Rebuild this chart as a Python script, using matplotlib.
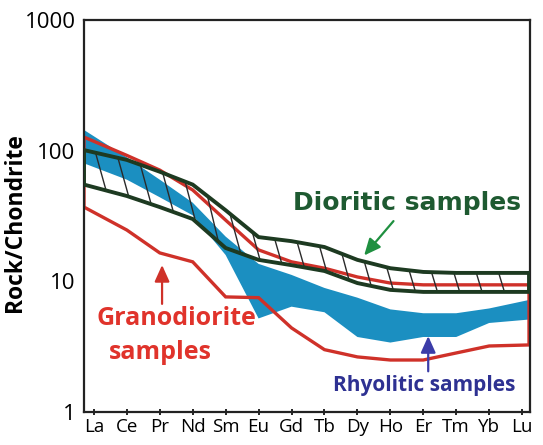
import numpy as np
import matplotlib
matplotlib.use('Agg')
import matplotlib.pyplot as plt

plt.rcParams['font.family'] = ['Open Sans', 'DejaVu Sans']

elements = ['La', 'Ce', 'Pr', 'Nd', 'Sm', 'Eu', 'Gd', 'Tb', 'Dy', 'Ho', 'Er', 'Tm', 'Yb', 'Lu']

# envelopes (rock / chondrite)
rhyo_top = [144, 89, 60, 40, 22, 13.6, 11.2, 8.9, 7.5, 6.1, 5.7, 5.7, 6.2, 7.2]
rhyo_bot = [80, 60, 44, 32, 15.9, 5.2, 6.4, 5.8, 3.75, 3.4, 3.75, 3.75, 4.8, 5.1]

grano_top = [127, 92, 71, 50, 29.4, 17.4, 14.1, 12.6, 10.8, 9.7, 9.4, 9.4, 9.4, 9.4]
grano_bot = [37, 24.7, 16.5, 14.1, 7.6, 7.5, 4.4, 3.0, 2.64, 2.5, 2.5, 2.83, 3.2, 3.26]

dio_top = [101, 85, 69, 55, 35, 21.8, 20.3, 18.3, 14.6, 12.6, 11.8, 11.6, 11.6, 11.6]
dio_bot = [55, 45, 37, 30, 18, 14.6, 13.3, 12.0, 9.7, 8.6, 8.3, 8.3, 8.3, 8.3]

c_blue = '#1b8fc1'
c_red = '#cf3129'
c_dgreen = '#1d3a21'


def envelope(x, top, bot):
    xs = np.concatenate([x, x[::-1]])
    ys = np.concatenate([top, bot[::-1]])
    return xs, ys


fig = plt.figure(figsize=(5.43, 4.45), dpi=100)
ax = fig.add_axes([84/543, 1-412/445, 446/543, 392/445])

idx = np.arange(len(elements))
x0, x1 = -0.30, 13.24
ax.set_xlim(x0, x1)
ax.set_yscale('log')
ax.set_ylim(1, 1000)

# envelopes reach the frame on both sides
xd = idx.astype(float)
xd[0] = x0
xd[-1] = x1 - 0.03

xs, ys = envelope(xd, rhyo_top, rhyo_bot)
ax.fill(xs, ys, color=c_blue, lw=0, zorder=1)

xs, ys = envelope(xd, grano_top, grano_bot)
ax.fill(xs, ys, facecolor='none', edgecolor=c_red, lw=2.4, zorder=2)

# hand-drawn style hatching inside the dioritic band
lt = np.log10(dio_top)
lb = np.log10(dio_bot)
for xh in np.arange(x0 + 0.35, x1 - 0.3, 0.68):
    ytop = np.interp(xh, xd, lt)
    ybot = np.interp(xh, xd, lb)
    off = 1.2 * (ytop - ybot)
    xb = min(xh + off, x1 - 0.05)
    ybot = np.interp(xb, xd, lb)
    ax.plot([xh, xb], [10**ytop, 10**ybot], color='#2a2a2a', lw=1.0, zorder=3)

xs, ys = envelope(xd, dio_top, dio_bot)
ax.fill(xs, ys, facecolor='none', edgecolor=c_dgreen, lw=2.8, zorder=4)

# labels and arrows
arrow = '-|>,head_length=1.0,head_width=0.45'
ax.text(9.5, 40, 'Dioritic samples', color='#1e5a31', fontsize=18,
        fontweight='bold', family='DejaVu Sans', ha='center', va='center')
ax.annotate('', xy=(8.15, 15.2), xytext=(9.15, 30),
            arrowprops=dict(arrowstyle=arrow, color='#1f9040', lw=1.6))

ax.text(2.5, 5.2, 'Granodiorite', color='#e0332b', fontsize=18,
        fontweight='bold', ha='center', va='center')
ax.text(2.03, 2.85, 'samples', color='#e0332b', fontsize=18,
        fontweight='bold', ha='center', va='center')
ax.annotate('', xy=(2.07, 14.0), xytext=(2.07, 6.4),
            arrowprops=dict(arrowstyle=arrow, color=c_red, lw=1.6))

ax.text(10.03, 1.6, 'Rhyolitic samples', color='#2e3192', fontsize=15,
        fontweight='bold', ha='center', va='center')
ax.annotate('', xy=(10.15, 4.0), xytext=(10.15, 1.95),
            arrowprops=dict(arrowstyle=arrow, color='#3b3ca8', lw=1.6))

# axes styling
ax.set_xticks(idx)
ax.set_xticklabels(elements, fontsize=13.5)
ax.tick_params(axis='x', direction='inout', length=5, width=1.2, pad=2)
ax.set_yticks([1, 10, 100, 1000])
ax.set_yticklabels(['1', '10', '100', '1000'], fontsize=16)
ax.minorticks_off()
ax.tick_params(axis='y', length=0, pad=6)
for sp in ax.spines.values():
    sp.set_linewidth(1.6)
    sp.set_color('#222222')

ax.set_ylabel('Rock/Chondrite', fontsize=16.5, fontweight='bold')
ax.yaxis.set_label_coords(-0.128, 0.482)

fig.savefig('out.png', dpi=100)
